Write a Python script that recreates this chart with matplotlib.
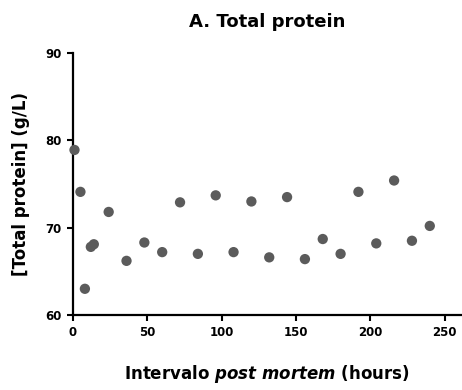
import matplotlib
matplotlib.use("Agg")
import matplotlib.pyplot as plt

# Post-mortem interval (hours) and total protein concentration (g/L)
hours = [1, 5, 8, 12, 14, 24, 36, 48, 60, 72, 84, 96, 108, 120,
         132, 144, 156, 168, 180, 192, 204, 216, 228, 240]
protein = [78.9, 74.1, 63.0, 67.8, 68.1, 71.8, 66.2, 68.3, 67.2, 72.9, 67.0, 73.7, 67.2, 73.0,
           66.6, 73.5, 66.4, 68.7, 67.0, 74.1, 68.2, 75.4, 68.5, 70.2]

x_ticks = [0, 50, 100, 150, 200, 250]
y_ticks = [60, 70, 80, 90]

plt.rcParams["font.family"] = ["DejaVu Sans"]
plt.rcParams["font.weight"] = "bold"

fig = plt.figure(figsize=(4.62, 3.90), dpi=100)
ax = fig.add_axes([73 / 462, 1 - 315 / 390, 388 / 462, 262 / 390])

ax.scatter(hours, protein, s=55, color="#5b5b5b", edgecolors="none", zorder=3, clip_on=False)

ax.set_xlim(0, 261)
ax.set_ylim(60, 90)
ax.set_xticks(x_ticks)
ax.set_yticks(y_ticks)
ax.set_xticklabels([str(v) for v in x_ticks], fontsize=8.5, fontweight="bold")
ax.set_yticklabels([str(v) for v in y_ticks], fontsize=8.5, fontweight="bold")

for side in ("top", "right"):
    ax.spines[side].set_visible(False)
for side in ("left", "bottom"):
    ax.spines[side].set_linewidth(1.6)
    ax.spines[side].set_color("black")
ax.tick_params(axis="both", direction="out", length=4, width=1.5, color="black", pad=4)

ax.set_title("A. Total protein", fontsize=13, fontweight="bold", pad=18.5)
ax.set_xlabel("Intervalo $\\bf{\\it{post\\ mortem}}$ (hours)", fontsize=12, fontweight="bold", labelpad=17.5)
ax.set_ylabel("[Total protein] (g/L)", fontsize=12, fontweight="bold", labelpad=11)

fig.savefig("out.png", dpi=100)
